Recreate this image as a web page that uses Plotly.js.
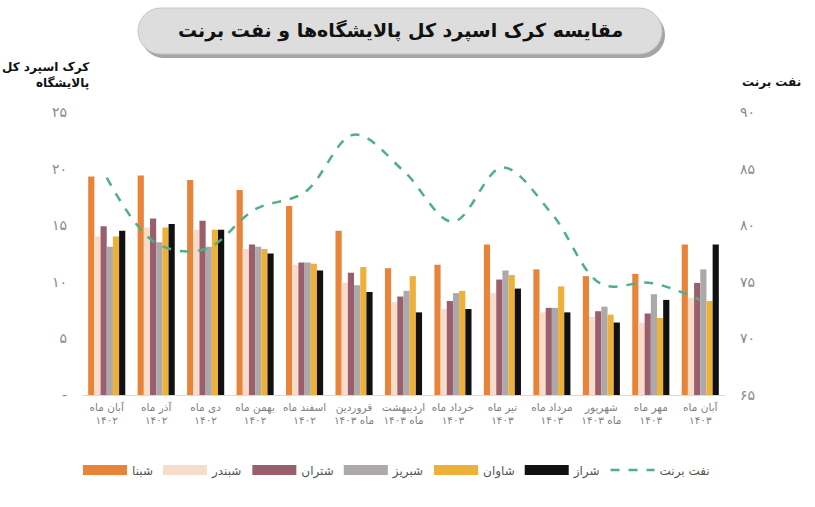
<!DOCTYPE html>
<html>
<head>
<meta charset="utf-8">
<script src="https://cdn.plot.ly/plotly-3.0.1.min.js"></script>
<style>
  html, body { margin: 0; padding: 0; background: #fff; }
  #chart { width: 815px; height: 507px; }
</style>
</head>
<body>
<div id="chart"></div>
<script>
// months (Persian calendar), two-line tick labels
const months = [
    'آبان ماه<br>۱۴۰۲', 'آذر ماه<br>۱۴۰۲', 'دی ماه<br>۱۴۰۲', 'بهمن ماه<br>۱۴۰۲',
    'اسفند ماه<br>۱۴۰۲', 'فروردین<br>ماه ۱۴۰۳', 'اردیبهشت<br>ماه ۱۴۰۳', 'خرداد ماه<br>۱۴۰۳',
    'تیر ماه<br>۱۴۰۳', 'مرداد ماه<br>۱۴۰۳', 'شهریور<br>ماه ۱۴۰۳', 'مهر ماه<br>۱۴۰۳',
    'آبان ماه<br>۱۴۰۳'
];

const shabna    = [19.3, 19.4, 19.0, 18.1, 16.7, 14.5, 11.2, 11.5, 13.3, 11.1, 10.5, 10.7, 13.3];
const shabandar = [14.0, 14.8, 14.6, 12.9, 11.5, 9.9, 8.2, 7.6, 9.0, 7.3, 6.9, 6.4, 8.6];
const shatran   = [14.9, 15.6, 15.4, 13.3, 11.7, 10.8, 8.7, 8.3, 10.2, 7.7, 7.4, 7.2, 9.9];
const shabriz   = [13.1, 13.5, 13.1, 13.1, 11.7, 9.7, 9.2, 9.0, 11.0, 7.7, 7.8, 8.9, 11.1];
const shavan    = [14.0, 14.8, 14.6, 12.9, 11.6, 11.3, 10.5, 9.2, 10.6, 9.6, 7.1, 6.8, 8.3];
const shiraz    = [14.5, 15.1, 14.6, 12.5, 11.0, 9.1, 7.3, 7.6, 9.4, 7.3, 6.4, 8.4, 13.3];
const brent     = [84.2, 78.4, 77.9, 81.4, 82.9, 88.0, 84.8, 80.3, 85.1, 81.0, 74.8, 74.9, 73.4];

const leftTicks  = [0, 5, 10, 15, 20, 25];
const leftText   = ['-', '۵', '۱۰', '۱۵', '۲۰', '۲۵'];
const rightTicks = [65, 70, 75, 80, 85, 90];
const rightText  = ['۶۵', '۷۰', '۷۵', '۸۰', '۸۵', '۹۰'];

const FONT = "'DejaVu Sans', sans-serif";
const W = 815, H = 507;
const M = { l: 82, r: 90, t: 112, b: 112 };
const PW = W - M.l - M.r, PH = H - M.t - M.b;

// page pixels -> paper coords
const px = x => (x - M.l) / PW;
const py = y => (H - M.b - y) / PH;

function pill(x0, y0, x1, y1) {
    const r = (y1 - y0) / 2, k = 0.5523 * r;
    const p = (x, y) => px(x).toFixed(5) + ',' + py(y).toFixed(5);
    return 'M' + p(x0 + r, y0) +
        ' L' + p(x1 - r, y0) +
        ' C' + p(x1 - r + k, y0) + ' ' + p(x1, y0 + r - k) + ' ' + p(x1, y0 + r) +
        ' C' + p(x1, y0 + r + k) + ' ' + p(x1 - r + k, y1) + ' ' + p(x1 - r, y1) +
        ' L' + p(x0 + r, y1) +
        ' C' + p(x0 + r - k, y1) + ' ' + p(x0, y1 - r + k) + ' ' + p(x0, y1 - r) +
        ' C' + p(x0, y0 + r - k) + ' ' + p(x0 + r - k, y0) + ' ' + p(x0 + r, y0) + ' Z';
}

const barSeries = [
    { name: 'شبنا', y: shabna, color: '#E8833A' },
    { name: 'شبندر', y: shabandar, color: '#F7DCCB' },
    { name: 'شتران', y: shatran, color: '#9A5E6C' },
    { name: 'شبریز', y: shabriz, color: '#ADA8AA' },
    { name: 'شاوان', y: shavan, color: '#EDB13A' },
    { name: 'شراز', y: shiraz, color: '#111111' }
];

const traces = barSeries.map(s => ({
    type: 'bar',
    name: s.name,
    legendgroup: s.name,
    showlegend: false,
    x: months,
    y: s.y,
    marker: { color: s.color },
    hovertemplate: s.name + ': %{y:.1f}<extra></extra>'
}));

// legend entries drawn as long flat swatches, like the original
barSeries.forEach(s => traces.push({
    type: 'scatter',
    mode: 'lines',
    name: s.name,
    legendgroup: s.name,
    x: [null], y: [null],
    line: { color: s.color, width: 10 },
    hoverinfo: 'skip'
}));

traces.push({
    type: 'scatter',
    mode: 'lines',
    name: 'نفت برنت',
    x: months,
    y: brent,
    yaxis: 'y2',
    line: { color: '#4DB087', width: 2.5, dash: 'dash', shape: 'spline', smoothing: 1 },
    hovertemplate: 'برنت: %{y:.1f}<extra></extra>'
});

const layout = {
    width: W, height: H,
    margin: M,
    paper_bgcolor: '#fff',
    plot_bgcolor: '#fff',
    font: { family: FONT, color: '#777', size: 11 },
    barmode: 'group',
    bargap: 0.25,
    bargroupgap: 0,
    showlegend: true,
    legend: {
        orientation: 'h',
        x: px(78), xanchor: 'left',
        y: py(470), yanchor: 'middle',
        font: { family: FONT, size: 12, color: '#555' },
        traceorder: 'normal',
        itemwidth: 44
    },
    xaxis: {
        type: 'category',
        showgrid: false,
        showline: true,
        linecolor: '#d9d9d9',
        linewidth: 1,
        ticks: '',
        tickangle: 0,
        ticklabelstandoff: 2,
        tickfont: { family: FONT, size: 10.5, color: '#808080' }
    },
    yaxis: {
        range: [0, 25],
        tickvals: leftTicks,
        ticktext: leftText,
        showgrid: false,
        zeroline: false,
        showline: false,
        ticks: '',
        ticklabelstandoff: 14,
        tickfont: { family: FONT, size: 14, color: '#8a8a8a' }
    },
    yaxis2: {
        overlaying: 'y',
        side: 'right',
        range: [65, 90],
        tickvals: rightTicks,
        ticktext: rightText,
        showgrid: false,
        zeroline: false,
        showline: false,
        ticks: '',
        ticklabelstandoff: 14,
        tickfont: { family: FONT, size: 14, color: '#8a8a8a' }
    },
    shapes: [
        { type: 'path', xref: 'paper', yref: 'paper', path: pill(141, 12, 665, 58),
          fillcolor: '#a5a5a5', line: { width: 0 } },
        { type: 'path', xref: 'paper', yref: 'paper', path: pill(138, 8, 662, 54),
          fillcolor: '#dddddd', line: { color: '#c6c6c6', width: 1 } }
    ],
    annotations: [
        { xref: 'paper', yref: 'paper', x: px(400), y: py(31), xanchor: 'center', yanchor: 'middle',
          showarrow: false, text: '<b>مقایسه کرک اسپرد کل پالایشگاه‌ها و نفت برنت</b>',
          font: { family: FONT, size: 19, color: '#111' } },
        { xref: 'paper', yref: 'paper', x: px(91), y: py(75), xanchor: 'right', yanchor: 'middle',
          showarrow: false, align: 'right', text: '<b>کرک اسپرد کل<br>پالایشگاه</b>',
          font: { family: FONT, size: 12, color: '#111' } },
        { xref: 'paper', yref: 'paper', x: px(771), y: py(82), xanchor: 'center', yanchor: 'middle',
          showarrow: false, text: '<b>نفت برنت</b>',
          font: { family: FONT, size: 12, color: '#111' } }
    ]
};

Plotly.newPlot('chart', traces, layout, { displayModeBar: false, staticPlot: true });
</script>
</body>
</html>
